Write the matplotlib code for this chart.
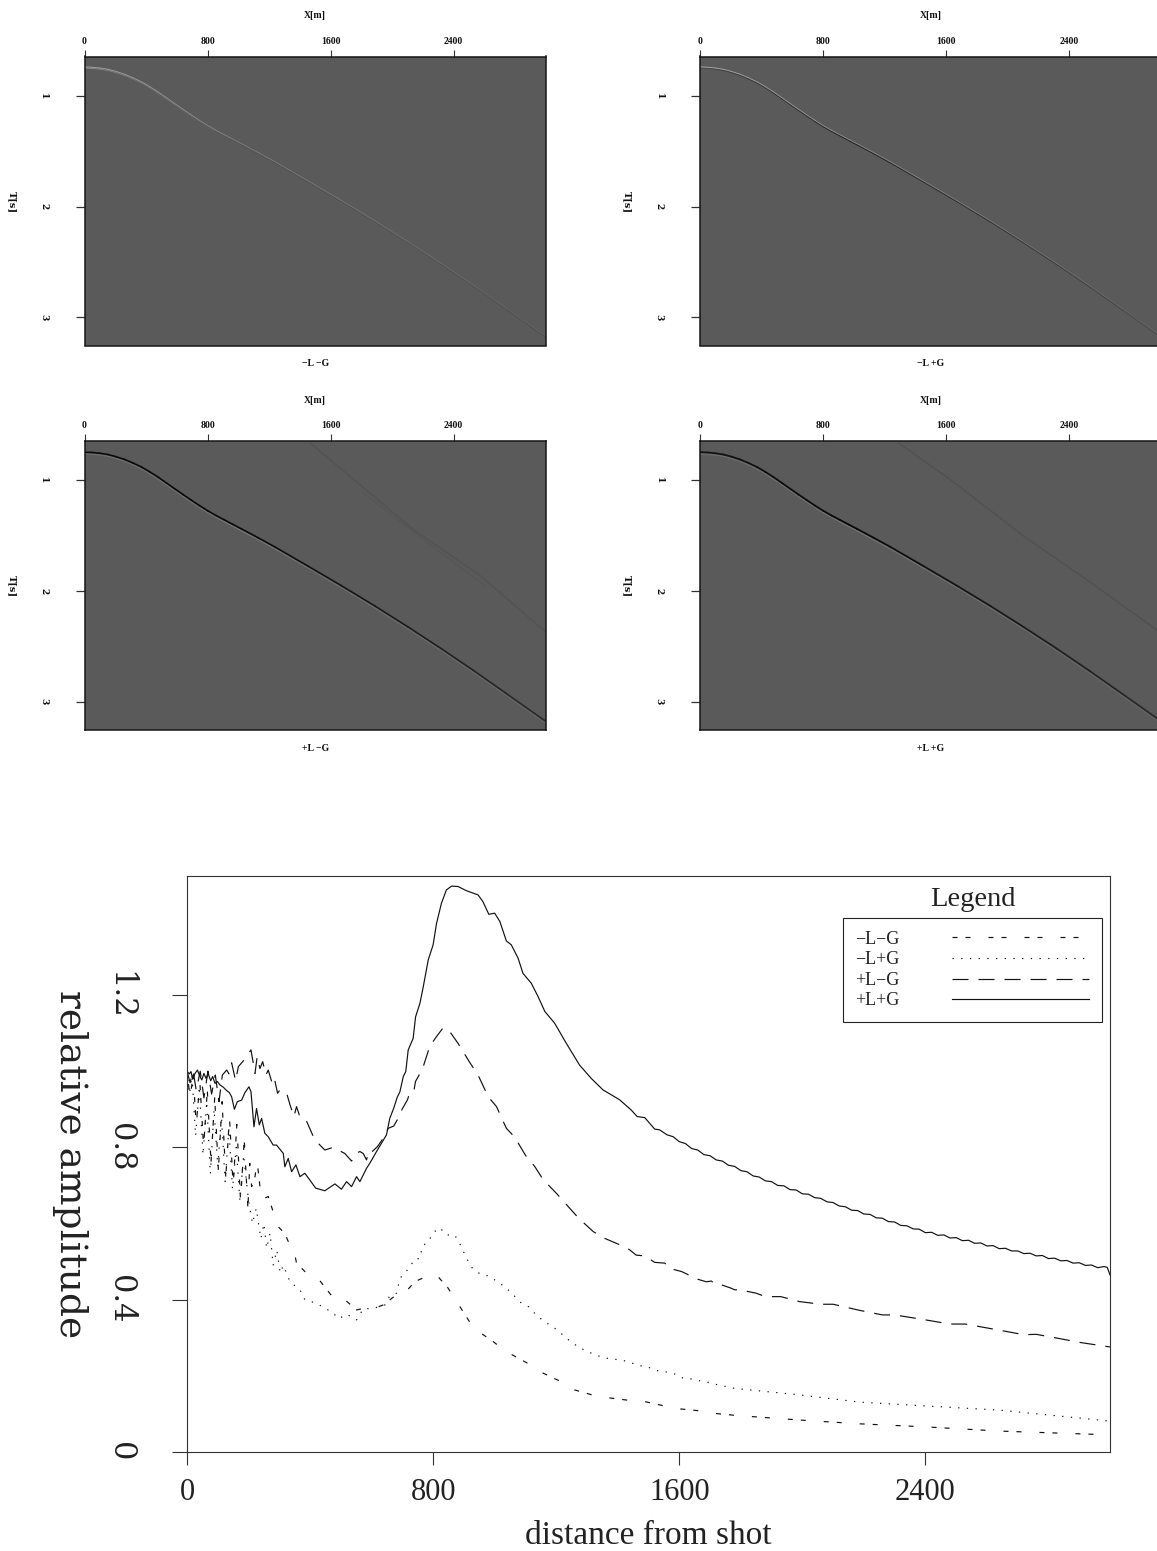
import numpy as np
import matplotlib
matplotlib.use("Agg")
import matplotlib.pyplot as plt
from matplotlib.collections import LineCollection

W, H = 1157, 1551
plt.rcParams['lines.scale_dashes'] = False
plt.rcParams['font.family'] = ['Liberation Serif', 'DejaVu Serif']

# ---------- data: event picks for the four shot gathers ----------
panel_titles = ["−L −G", "−L +G", "+L −G", "+L +G"]
event_x = [0, 50, 100, 151, 205, 260, 315, 371, 424, 477, 531, 586, 640, 694, 748, 802, 856, 911, 965, 1019, 1128, 1236, 1453, 1670, 1887, 2103, 2320, 2537, 2753, 2972, 3000]
event_t = [.744, .747, .754, .765, .785, .810, .842, .879, .922, .969, 1.021, 1.075, 1.127, 1.178, 1.228, 1.275, 1.318, 1.358, 1.398, 1.437, 1.518, 1.60, 1.775, 1.952, 2.135, 2.325, 2.522, 2.727, 2.938, 3.153, 3.18]
second_left_x = [1466, 2137, 2572, 3000]
second_left_t = [.66, 1.443, 1.86, 2.373]
third_left_x = [1811, 2200, 2600]
third_left_t = [1.11, 1.53, 1.95]
second_right_x = [1290, 1626, 2103, 2537, 2972, 3000]
second_right_t = [.66, .99, 1.503, 1.92, 2.355, 2.38]
panel_xticks = [0, 800, 1600, 2400]
panel_tticks = [1, 2, 3]

# ---------- data: relative amplitude against distance ----------
ll_x = [0, 10, 20, 30, 42, 54, 66, 78, 90, 102, 114, 126, 138, 150, 162, 174, 186, 198, 204, 210, 221, 228, 242, 264, 278, 291, 296, 307, 318, 329, 345, 356, 388, 421, 480, 513, 551, 578, 621, 637, 681, 703, 740, 764, 811, 849, 900, 932, 995, 1035, 1107, 1150, 1215, 1260, 1330, 1374, 1443, 1490, 1562, 1605, 1680, 1720, 1785, 1991, 2186, 2400, 2640, 3000]
ll_y = [1.0, .93, .99, .86, .97, .80, .95, .76, .93, .74, .92, .72, .88, .70, .86, .66, .82, .64, .758, .697, .723, .763, .662, .671, .636, .618, .592, .583, .574, .553, .54, .496, .47, .461, .40, .40, .373, .378, .381, .386, .413, .413, .447, .456, .465, .430, .365, .325, .29, .265, .233, .21, .185, .163, .147, .142, .135, .132, .119, .113, .107, .101, .096, .084, .074, .066, .055, .045]

lg_x = [0, 8, 16, 28, 40, 52, 64, 76, 88, 100, 112, 124, 136, 148, 160, 172, 184, 200, 213, 225, 240, 250, 259, 270, 280, 292, 303, 313, 335, 367, 383, 419, 448, 473, 494, 519, 551, 573, 605, 643, 659, 681, 692, 724, 740, 757, 765, 784, 800, 822, 843, 870, 890, 908, 928, 954, 982, 1009, 1035, 1060, 1084, 1111, 1136, 1162, 1189, 1215, 1241, 1268, 1295, 1325, 1352, 1381, 1410, 1439, 1467, 1496, 1524, 1553, 1582, 1609, 1638, 1666, 1694, 1722, 1751, 1780, 1991, 2186, 2400, 2640, 2803, 2965, 3000]
lg_y = [1.0, .94, .99, .83, .96, .78, .92, .73, .90, .75, .88, .71, .85, .69, .80, .66, .78, .66, .60, .64, .56, .60, .535, .575, .49, .53, .47, .49, .447, .426, .40, .391, .378, .366, .35, .362, .347, .376, .377, .386, .41, .417, .456, .485, .507, .508, .541, .552, .576, .589, .570, .570, .542, .509, .482, .467, .462, .447, .433, .413, .393, .381, .359, .342, .329, .312, .294, .278, .266, .256, .248, .244, .242, .236, .227, .224, .214, .211, .206, .195, .192, .187, .183, .177, .172, .167, .15, .131, .121, .11, .097, .084, .081]

gl_x = [0, 10, 20, 30, 43, 55, 68, 80, 92, 104, 115, 129, 136.5, 145, 158, 167, 185, 208, 221, 228, 237, 246, 256.6, 264, 277, 284, 294.5, 302, 324, 335, 347.6, 356, 365, 383, 413.5, 432, 448, 475, 491.5, 513, 535, 548, 562, 572.7, 583.5, 591, 602, 619, 638, 654, 672, 686, 699, 716.7, 726, 738, 742.7, 765, 789, 811, 832.5, 854, 881, 919, 946, 979, 1006, 1038, 1065, 1101, 1130, 1157, 1201, 1244, 1273, 1320, 1352, 1404, 1437, 1460, 1488, 1520, 1553, 1569, 1607, 1623, 1650, 1688, 1704, 1720, 1737, 1769, 1780, 1796, 1850, 1880, 1930, 1991, 2060, 2100, 2186, 2260, 2300, 2400, 2480, 2530, 2640, 2720, 2760, 2835, 2900, 2982, 3000]
gl_y = [1.0, .97, 1.0, .95, 1.0, .93, 1.0, .94, .99, .92, .99, 1.003, .993, 1.022, .975, 1.012, 1.029, 1.056, .994, 1.038, 1.007, 1.025, .990, 1.003, .968, .981, .942, .951, .942, .911, .881, .907, .885, .879, .823, .806, .793, .800, .793, .784, .764, .784, .789, .784, .767, .791, .789, .802, .824, .850, .856, .876, .900, .925, .949, .951, .973, 1.005, 1.065, 1.091, 1.114, 1.104, 1.073, 1.023, .990, .933, .907, .850, .827, .778, .750, .716, .679, .640, .614, .579, .563, .545, .532, .517, .515, .498, .496, .482, .474, .468, .456, .447, .449, .439, .439, .430, .426, .426, .417, .408, .408, .395, .388, .388, .372, .360, .360, .347, .336, .336, .320, .308, .309, .298, .288, .278, .276]

pp_x = [1, 7.6, 13, 18.4, 26, 34, 40, 48, 55, 62, 69, 77, 83.4, 91, 98.5, 107, 118, 129, 137.5, 145, 154, 163.5, 177.6, 188.4, 201.4, 208, 217.6, 226, 235, 242.5, 253, 264, 280, 291, 313, 318, 329, 340, 354, 367, 383, 399.5, 418, 448, 481, 502, 518.6, 535, 551, 562, 583.5, 594, 616, 638, 648.5, 659, 672, 683, 692, 703, 711, 719, 735, 743, 757, 768, 784, 800, 811, 827, 843, 860, 881, 908, 946, 962, 981, 1000, 1017, 1038, 1054, 1076, 1092, 1119, 1141, 1163, 1195, 1233, 1276, 1314, 1352, 1406, 1444, 1463, 1488, 1520, 1536,
        1560, 1580, 1600, 1620, 1640, 1660, 1680, 1700, 1720, 1740, 1760, 1780, 1800, 1820, 1840, 1860, 1880, 1900, 1920, 1940, 1960, 1980, 2000, 2020, 2040, 2060, 2080, 2100, 2120, 2140, 2160, 2180, 2200, 2220, 2240, 2260, 2280, 2300, 2320, 2340, 2360, 2380, 2400, 2420, 2440, 2460, 2480, 2500, 2520, 2540, 2560, 2580, 2600, 2620, 2640, 2660, 2680, 2700, 2720, 2740, 2760, 2780, 2800, 2820, 2840, 2860, 2880, 2900, 2920, 2940, 2960, 2980, 2991, 3000]
pp_y = [.999, .993, .999, .979, .994, 1.003, .990, .977, .994, .981, .993, .975, .986, .968, .973, .964, .958, .949, .944, .933, .900, .920, .924, .944, .959, .946, .854, .902, .859, .876, .837, .828, .806, .806, .784, .749, .771, .736, .754, .723, .732, .714, .693, .686, .704, .690, .710, .697, .723, .710, .745, .758, .789, .819, .833, .876, .903, .931, .946, .986, .999, 1.056, 1.086, 1.143, 1.178, 1.222, 1.292, 1.332, 1.388, 1.441, 1.476, 1.486, 1.485, 1.474, 1.463, 1.445, 1.412, 1.415, 1.393, 1.342, 1.332, 1.297, 1.257, 1.231, 1.196, 1.157, 1.126, 1.073, 1.016, .981, .951, .925, .898, .881, .878, .848, .846,
        .833, .828, .815, .810, .797, .793, .781, .778, .767, .764, .753, .750, .739, .736, .725, .722, .712, .710, .700, .699, .689, .688, .678, .677, .668, .666, .657, .655, .646, .644, .635, .634, .625, .624, .615, .614, .605, .604, .595, .594, .586, .585, .576, .577, .569, .570, .562, .563, .555, .556, .548, .549, .541, .542, .534, .535, .528, .528, .521, .522, .515, .516, .508, .509, .502, .503, .496, .497, .490, .491, .484, .487, .485, .465]

series_labels = ["−L−G", "−L+G", "+L−G", "+L+G"]
amp_xticks = [0, 800, 1600, 2400]
amp_yticks = [0, 0.4, 0.8, 1.2]
amp_yticklabels = ["0", "0.4", "0.8", "1.2"]


def px_axes(fig, l, t, r, b):
    return fig.add_axes([l / W, 1 - b / H, (r - l) / W, (b - t) / H])


def px2pt(p):
    return p * 0.72


def graded(ax, x, t, c_start, c_mid, c_end, lw, dt=0.0):
    xs = np.array(x, float)
    ts = np.array(t, float) + dt
    pts = np.column_stack([xs, ts])
    segs = np.stack([pts[:-1], pts[1:]], axis=1)
    mid = (xs[:-1] + xs[1:]) / 2
    cols = []
    for m in mid:
        if m < 1000:
            f = m / 1000
            a, b = c_start, c_mid
        else:
            f = (m - 1000) / 2000
            a, b = c_mid, c_end
        g = a + (b - a) * f
        cols.append((g, g, g))
    ax.add_collection(LineCollection(segs, colors=cols, linewidths=lw, capstyle='round'))


fig = plt.figure(figsize=(W / 100, H / 100), dpi=100, facecolor='white')

panels = [(84.5, 56.5, 546, 345.5, 0), (700, 56.5, 1161.5, 345.5, 1),
          (84.5, 441, 546, 730, 2), (700, 441, 1161.5, 730, 3)]
tiny = dict(family=['Liberation Serif', 'DejaVu Serif'], fontweight='bold', fontsize=7, color='#111111')
for l, t, r, b, i in panels:
    ax = px_axes(fig, l, t, r, b)
    ax.set_facecolor('#5a5a5a')
    ax.set_xlim(0, 3000)
    ax.set_ylim(3.257, 0.643)
    for s in ax.spines.values():
        s.set_linewidth(1.1)
        s.set_color('#151515')
    ax.xaxis.tick_top()
    ax.set_xticks(panel_xticks)
    ax.set_yticks(panel_tticks)
    ax.set_xticklabels([str(v) for v in panel_xticks], **tiny)
    ax.set_yticklabels([str(v) for v in panel_tticks], rotation=-90, va='center', ha='center',
                       family='DejaVu Serif', fontweight='bold', fontsize=6.5, color='#111111')
    ax.tick_params(axis='x', length=px2pt(7), width=0.8, pad=px2pt(4), color='#333333')
    ax.tick_params(axis='y', length=px2pt(9), width=0.9, pad=px2pt(32), color='#333333')
    ax.set_xlabel("X[m]", labelpad=px2pt(18), **tiny)
    ax.xaxis.set_label_position('top')
    ax.text(0.5, -(364 - 345.5) / 289, panel_titles[i], transform=ax.transAxes, ha='center', va='center', **tiny)
    fig.text((l - 72.5) / W, 1 - ((t + b) / 2 + 1) / H, "T[s]", rotation=-90, ha='center', va='center',
             family='DejaVu Serif', fontweight='bold', fontsize=7, color='#111111')
    if i == 0:
        graded(ax, event_x, event_t, .56, .32, .31, 0.6, dt=0.004)
        graded(ax, event_x, event_t, .68, .50, .38, 0.6, dt=-0.007)
    elif i == 1:
        graded(ax, event_x, event_t, .28, .12, .30, 0.7, dt=0.004)
        graded(ax, event_x, event_t, .68, .54, .38, 0.6, dt=-0.007)
    elif i == 2:
        ax.plot(second_left_x, second_left_t, color='#535353', lw=1.0)
        ax.plot(third_left_x, third_left_t, color='#565656', lw=0.9)
        graded(ax, event_x, event_t, .42, .46, .40, 1.2, dt=0.014)
        graded(ax, event_x, event_t, .04, .03, .17, 1.2)
    else:
        ax.plot(second_right_x, second_right_t, color='#515151', lw=1.0)
        graded(ax, event_x, event_t, .42, .46, .40, 1.2, dt=0.014)
        graded(ax, event_x, event_t, .08, .03, .17, 1.3)

# ---------- amplitude graph ----------
ax = px_axes(fig, 187, 876, 1110, 1452)
ax.set_xlim(0, 3000)
ax.set_ylim(0, 1.5126)
line_kw = dict(color='#111111', lw=0.85)
ax.plot(ll_x, ll_y, dashes=(px2pt(5), px2pt(8), px2pt(5), px2pt(18)), label=series_labels[0], **line_kw)
ax.plot(lg_x, lg_y, dashes=(px2pt(1.3), px2pt(7.4)), label=series_labels[1], **line_kw)
ax.plot(gl_x, gl_y, dashes=(px2pt(16), px2pt(10)), label=series_labels[2], **line_kw)
ax.plot(pp_x, pp_y, label=series_labels[3], **line_kw)
for s in ax.spines.values():
    s.set_linewidth(0.8)
    s.set_color('#333333')
ax.set_xticks(amp_xticks)
ax.set_xticklabels([str(v) for v in amp_xticks], family='Liberation Serif', fontsize=22, color='#222222')
ax.set_yticks(amp_yticks)
ax.set_yticklabels(amp_yticklabels, rotation=-90, va='center', ha='center', family='DejaVu Serif',
                   fontsize=22, color='#222222')
ax.tick_params(axis='x', length=px2pt(13), width=0.8, pad=px2pt(13), color='#333333')
ax.tick_params(axis='y', length=px2pt(15), width=0.8, pad=px2pt(52), color='#333333')
ax.set_xlabel("distance from shot", family='Liberation Serif', fontsize=24, color='#222222', labelpad=px2pt(13))
ax.set_ylabel("relative amplitude", rotation=-90, family='DejaVu Serif', fontsize=27, color='#222222',
              va='center', ha='center', labelpad=px2pt(35))

fig.text(973 / W, 1 - 899 / H, "Legend", ha='center', va='center', family='Liberation Serif', fontsize=20.5, color='#222222')
leg = ax.legend(loc='upper right', bbox_to_anchor=(1101.5 / W, 1 - 918 / H), bbox_transform=fig.transFigure,
                markerfirst=False, fancybox=False, framealpha=1, edgecolor='#222222', borderaxespad=0,
                prop={'family': 'Liberation Serif', 'size': 13}, handlelength=137 * 0.72 / 13,
                handletextpad=52 * 0.72 / 13, labelspacing=0.2, borderpad=0.7)
leg.get_frame().set_linewidth(0.8)
for txt in leg.get_texts():
    txt.set_color('#222222')

fig.savefig('out.png', dpi=100)
